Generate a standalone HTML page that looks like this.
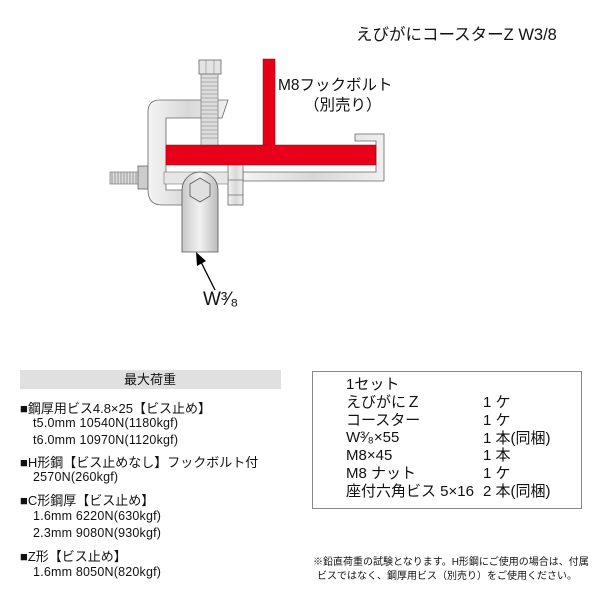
<!DOCTYPE html>
<html><head><meta charset="utf-8"><style>
body{margin:0;width:600px;height:600px;background:#fff;position:relative;overflow:hidden;font-family:"Liberation Sans","Noto Sans CJK JP",sans-serif;color:#111}
.a{position:absolute;white-space:nowrap}
.s{font-size:13px;line-height:16px}
.m{font-size:12.5px;letter-spacing:0.2px}
</style></head><body>
<svg width="600" height="600" style="position:absolute;left:0;top:0">
<defs>
<linearGradient id="g" x1="0" x2="1"><stop offset="0" stop-color="#f4f4f4"/><stop offset="0.5" stop-color="#d8d8d8"/><stop offset="1" stop-color="#f0f0f0"/></linearGradient>
<linearGradient id="g2" x1="0" x2="1"><stop offset="0" stop-color="#c8c8c8"/><stop offset="0.5" stop-color="#f2f2f2"/><stop offset="1" stop-color="#bbb"/></linearGradient>
</defs>
<path d="M243,181 L384,181 L384,134 L355,134 L355,141 L376,141 L376,172 L243,172 Z" fill="url(#g)" stroke="#666" stroke-width="0.8"/>
<rect x="228" y="163" width="15" height="42" fill="url(#g)" stroke="#666" stroke-width="0.8"/>
<line x1="228" y1="180" x2="243" y2="180" stroke="#666" stroke-width="0.7"/>
<line x1="228" y1="195" x2="243" y2="195" stroke="#666" stroke-width="0.7"/>
<rect x="110" y="172" width="32" height="12" fill="#ddd" stroke="#777" stroke-width="0.7"/>
<path d="M112,172v12M115,172v12M118,172v12M121,172v12M124,172v12M127,172v12M130,172v12M133,172v12M136,172v12" stroke="#888" stroke-width="0.8"/>
<rect x="138" y="166" width="10" height="23" fill="#ccc" stroke="#666" stroke-width="0.8"/>
<path d="M160,100 L228,100 L222,118 L166,118 L166,190 L185,190 L185,205 L162,205 Q148,205 148,190 L148,112 Q148,100 160,100 Z" fill="url(#g)" stroke="#666" stroke-width="0.8"/>
<rect x="164" y="172" width="64" height="12" fill="#e6e6e6" stroke="#777" stroke-width="0.6"/>
<rect x="201" y="72" width="17" height="80" fill="#ddd" stroke="#777" stroke-width="0.7"/>
<path d="M201,78h17M201,82h17M201,86h17M201,90h17M201,94h17M201,98h17M201,102h17M201,106h17M201,110h17M201,114h17M201,118h17M201,122h17M201,126h17M201,130h17M201,134h17M201,138h17" stroke="#999" stroke-width="0.8"/>
<rect x="199" y="60" width="22" height="14" fill="#e4e4e4" stroke="#666" stroke-width="0.8"/>
<line x1="206" y1="60" x2="206" y2="74" stroke="#888" stroke-width="0.6"/><line x1="214" y1="60" x2="214" y2="74" stroke="#888" stroke-width="0.6"/>
<rect x="263" y="59" width="12" height="88" fill="#e8001a" stroke="#900" stroke-width="0.5"/>
<rect x="166" y="145" width="210" height="20" fill="#e8001a" stroke="#900" stroke-width="0.5"/>
<path d="M182,190 A18,18 0 0 1 218,190 L218,252 L182,252 Z" fill="url(#g2)" stroke="#555" stroke-width="0.8"/>
<polygon points="200,178 210,184 210,196 200,202 190,196 190,184" fill="#e0e0e0" stroke="#555" stroke-width="0.8"/>
<line x1="215" y1="290" x2="199" y2="258" stroke="#000" stroke-width="1.3"/>
<polygon points="196,252 197,266 206,261" fill="#000"/>
<rect x="20" y="370" width="261" height="19" fill="#e0e0e0"/>
<rect x="312.5" y="371.5" width="269" height="137" fill="none" stroke="#888" stroke-width="1"/>
</svg>
<div class="a" style="left:356px;top:21px;font-size:16.5px">えびがにコースターZ W3/8</div>
<div class="a" style="left:278px;top:73px;font-size:15.5px">M8フックボルト</div>
<div class="a" style="left:304px;top:93px;font-size:15.5px">（別売り）</div>
<div class="a" style="left:203px;top:289px;font-size:19px">W³⁄₈</div>
<div class="a s" style="left:124px;top:372px;font-size:13px">最大荷重</div>
<div class="a s" style="left:20px;top:401px">■鋼厚用ビス4.8×25【ビス止め】</div>
<div class="a m" style="left:33px;top:416px">t5.0mm 10540N(1180kgf)</div>
<div class="a m" style="left:33px;top:433px">t6.0mm 10970N(1120kgf)</div>
<div class="a s" style="left:20px;top:455px">■H形鋼【ビス止めなし】フックボルト付</div>
<div class="a m" style="left:33px;top:470px">2570N(260kgf)</div>
<div class="a s" style="left:20px;top:493px">■C形鋼厚【ビス止め】</div>
<div class="a m" style="left:33px;top:509px">1.6mm 6220N(630kgf)</div>
<div class="a m" style="left:33px;top:526px">2.3mm 9080N(930kgf)</div>
<div class="a s" style="left:20px;top:549px">■Z形【ビス止め】</div>
<div class="a m" style="left:33px;top:565px">1.6mm 8050N(820kgf)</div>
<div class="a" style="left:346px;top:376px;font-size:15px;line-height:17.8px">1セット<br>えびがにＺ<br>コースター<br>W³⁄₈×55<br>M8×45<br>M8 ナット<br>座付六角ビス 5×16</div>
<div class="a" style="left:483px;top:394px;font-size:15px;line-height:17.8px">1 ケ<br>1 ケ<br>1 本(同梱)<br>1 本<br>1 ケ<br>2 本(同梱)</div>
<div class="a" style="left:313px;top:556px;font-size:10px;line-height:14px;text-align:center;width:268px">※鉛直荷重の試験となります。H形鋼にご使用の場合は、付属<br>ビスではなく、鋼厚用ビス（別売り）をご使用ください。</div>
</body></html>
